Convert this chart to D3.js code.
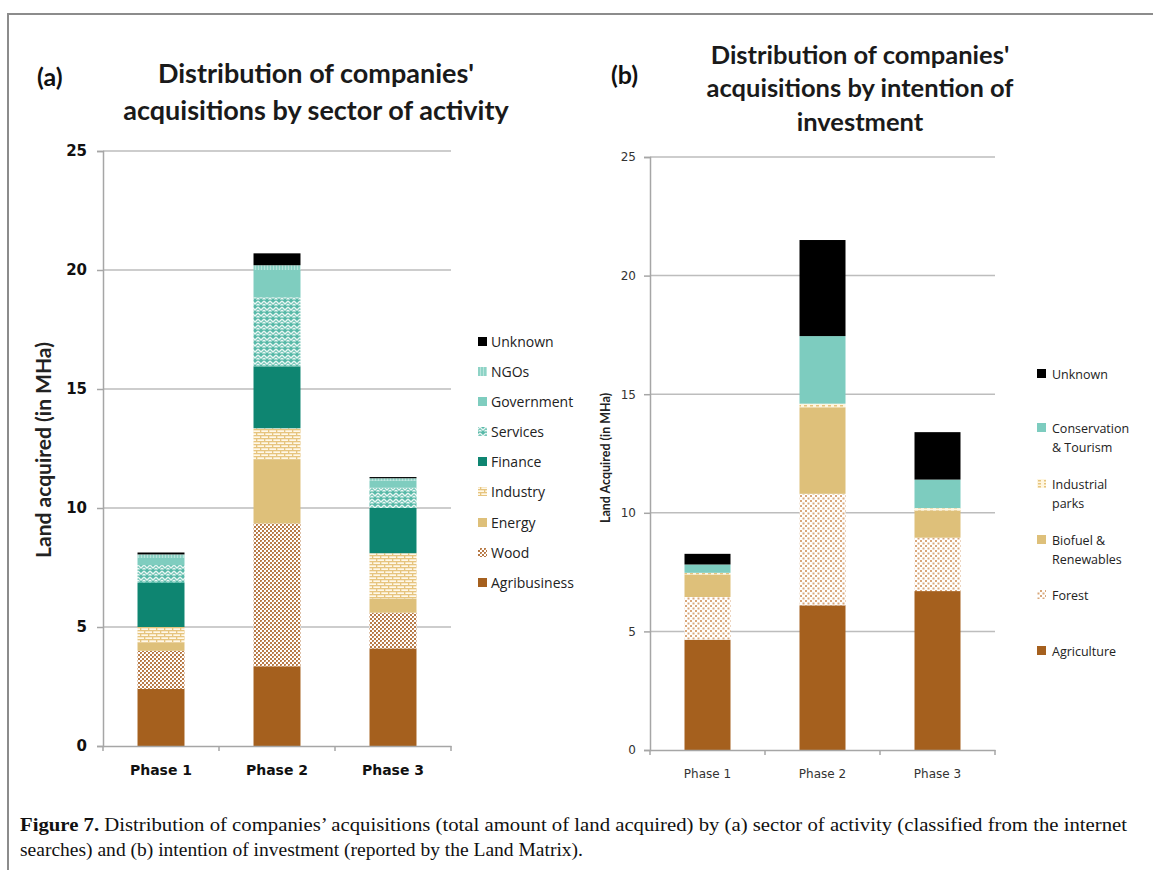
<!DOCTYPE html>
<html><head><meta charset="utf-8">
<script src="https://cdn.jsdelivr.net/npm/d3@7"></script>
<style>html,body{margin:0;padding:0;background:#fff;}svg{display:block;}</style>
</head><body>
<svg id="chart" width="1153" height="870"></svg>
<script>
// ---------- DATA ----------
const phases = ["Phase 1", "Phase 2", "Phase 3"];
const yTicks = [0, 5, 10, 15, 20, 25];

// Panel (a): by sector of activity (MHa)
const sectorNames = ["Agribusiness", "Wood", "Energy", "Industry", "Finance", "Services", "Government", "NGOs", "Unknown"];
const agribusiness = [2.4, 3.35, 4.1];
const wood         = [1.6, 6.0, 1.5];
const energy       = [0.35, 2.7, 0.6];
const industry     = [0.65, 1.3, 1.9];
const finance      = [1.85, 2.6, 1.9];
const services     = [0.75, 2.9, 0.85];
const government   = [0.3, 1.15, 0.3];
const ngos         = [0.15, 0.2, 0.1];
const unknownA     = [0.08, 0.5, 0.05];

// Panel (b): by intention of investment (MHa)
const intentionNames = ["Agriculture", "Forest", "Biofuel & Renewables", "Industrial parks", "Conservation & Tourism", "Unknown"];
const agriculture     = [4.65, 6.1, 6.7];
const forest          = [1.8, 4.7, 2.25];
const biofuel         = [0.95, 3.65, 1.15];
const industrialParks = [0.07, 0.15, 0.1];
const conservation    = [0.35, 2.85, 1.2];
const unknownB        = [0.45, 4.05, 2.0];

// ---------- SETUP ----------
const svg = d3.select("#chart");
const defs = svg.append("defs");

function pat(id, w, h, bg, draw) {
  const p = defs.append("pattern").attr("id", id).attr("patternUnits", "userSpaceOnUse")
    .attr("width", w).attr("height", h);
  p.append("rect").attr("width", w).attr("height", h).attr("fill", bg);
  draw(p);
}
const BROWN = "#A5601E";
// wood: brown weave on white
pat("pWood", 4, 4, "#fff", p => {
  p.append("rect").attr("x", 0).attr("y", 0).attr("width", 2).attr("height", 2).attr("fill", "#B77A47");
  p.append("rect").attr("x", 2).attr("y", 2).attr("width", 2).attr("height", 2).attr("fill", "#B77A47");
  p.append("rect").attr("x", 1).attr("y", 1).attr("width", 1).attr("height", 1).attr("fill", "#D3A47C");
});
// industry: bricks
pat("pIndustry", 8, 6, "#FFF8E8", p => {
  p.append("rect").attr("x", 0).attr("y", 0).attr("width", 8).attr("height", 1.3).attr("fill", "#E6C47E");
  p.append("rect").attr("x", 0).attr("y", 3).attr("width", 8).attr("height", 1.3).attr("fill", "#E6C47E");
  p.append("rect").attr("x", 0).attr("y", 0).attr("width", 1.3).attr("height", 3).attr("fill", "#E6C47E");
  p.append("rect").attr("x", 4).attr("y", 3).attr("width", 1.3).attr("height", 3).attr("fill", "#E6C47E");
});
// services: teal zigzag with white
pat("pServices", 6, 6, "#58B9A8", p => {
  p.append("path").attr("d", "M0,1 L3,4 L6,1 M0,4 L1.5,5.5 M4.5,5.5 L6,4").attr("stroke", "#E9F6F3").attr("stroke-width", 1.4).attr("fill", "none");
});
// NGOs: light teal with faint white stripes
pat("pNGO", 3, 3, "#8ED3C6", p => {
  p.append("rect").attr("x", 0).attr("y", 0).attr("width", 1).attr("height", 3).attr("fill", "#B7E4DB");
});
// forest: sparse dots
pat("pForest", 5, 5, "#fff", p => {
  p.append("rect").attr("x", 0).attr("y", 0).attr("width", 2).attr("height", 2).attr("fill", "#D9A77A");
  p.append("rect").attr("x", 2.5).attr("y", 2.5).attr("width", 2).attr("height", 2).attr("fill", "#D9A77A");
});
// industrial parks: dashed yellow
pat("pParks", 6, 3, "#FFF6E0", p => {
  p.append("rect").attr("x", 0).attr("y", 0).attr("width", 3).attr("height", 1.5).attr("fill", "#E6C47E");
});

const colorsA = {
  "Agribusiness": BROWN, "Wood": "url(#pWood)", "Energy": "#DEC07A", "Industry": "url(#pIndustry)",
  "Finance": "#0E8571", "Services": "url(#pServices)", "Government": "#7FCDBF", "NGOs": "url(#pNGO)", "Unknown": "#000"
};
const colorsB = {
  "Agriculture": BROWN, "Forest": "url(#pForest)", "Biofuel & Renewables": "#DEC07A",
  "Industrial parks": "url(#pParks)", "Conservation & Tourism": "#7DCCBF", "Unknown": "#000"
};

const seriesA = [agribusiness, wood, energy, industry, finance, services, government, ngos, unknownA];
const seriesB = [agriculture, forest, biofuel, industrialParks, conservation, unknownB];

function buildRows(names, series) {
  return phases.map((ph, i) => {
    const r = { phase: ph };
    names.forEach((n, k) => r[n] = series[k][i]);
    return r;
  });
}

function drawPanel(cfg) {
  const g = svg.append("g");
  const x = d3.scaleBand().domain(phases).range([cfg.x0, cfg.x1]).paddingInner(cfg.pad).paddingOuter(cfg.pad / 2);
  const y = d3.scaleLinear().domain([0, 25]).range([cfg.y0, cfg.y1]);
  // grid
  g.selectAll(".grid").data(yTicks.filter(t => t > 0)).join("line")
    .attr("x1", cfg.x0).attr("x2", cfg.x1).attr("y1", d => y(d)).attr("y2", d => y(d))
    .attr("stroke", "#BDBDBD").attr("stroke-width", 1.5);
  // bars
  const rows = buildRows(cfg.names, cfg.series);
  const stack = d3.stack().keys(cfg.names)(rows);
  stack.forEach(layer => {
    g.selectAll(null).data(layer).join("rect")
      .attr("x", d => x(d.data.phase)).attr("width", x.bandwidth())
      .attr("y", d => y(d[1])).attr("height", d => Math.max(0, y(d[0]) - y(d[1])))
      .attr("fill", cfg.colors[layer.key]);
  });
  // y axis
  const ya = g.append("g").attr("transform", `translate(${cfg.x0},0)`)
    .call(d3.axisLeft(y).tickValues(yTicks).tickSize(6).tickPadding(cfg.tickPad));
  ya.select(".domain").attr("stroke", "#A6A6A6").attr("stroke-width", 1.5);
  ya.selectAll(".tick line").attr("stroke", "#A6A6A6").attr("stroke-width", 1.5);
  ya.selectAll("text").attr("font-family", "DejaVu Sans, Verdana, sans-serif")
    .attr("font-size", cfg.tickFont).attr("font-weight", cfg.tickWeight).attr("fill", cfg.tickColor);
  // x axis
  const xa = g.append("g").attr("transform", `translate(0,${cfg.y0})`)
    .call(d3.axisBottom(x).tickSize(0).tickPadding(cfg.xPad));
  xa.select(".domain").attr("stroke", "#A6A6A6").attr("stroke-width", 1.5);
  xa.selectAll("text").attr("font-family", "DejaVu Sans, Verdana, sans-serif")
    .attr("font-size", cfg.xFont).attr("font-weight", cfg.tickWeight).attr("fill", cfg.tickColor);
  // category boundary ticks
  const step = x.step();
  g.selectAll(".xt").data(d3.range(phases.length + 1)).join("line")
    .attr("x1", i => cfg.x0 + i * step).attr("x2", i => cfg.x0 + i * step)
    .attr("y1", cfg.y0).attr("y2", cfg.y0 + 5).attr("stroke", "#A6A6A6").attr("stroke-width", 1.5);
  // y axis title
  g.append("text").attr("transform", `translate(${cfg.yTitleX},${cfg.yTitleY}) rotate(-90)`)
    .attr("text-anchor", "middle").attr("font-family", "Lato, 'Open Sans', sans-serif")
    .attr("font-weight", "bold").attr("font-size", cfg.yTitleFont).attr("fill", "#222").text(cfg.yTitle);
  return { x, y };
}

// ---------- PANEL (a) ----------
drawPanel({
  x0: 103, x1: 451, y0: 746, y1: 151, pad: 0.595,
  names: sectorNames, series: seriesA, colors: colorsA,
  tickPad: 10, tickFont: 15, tickWeight: "bold", tickColor: "#111", xFont: 14, xPad: 19,
  yTitle: "Land acquired  (in MHa)", yTitleX: 51, yTitleY: 450, yTitleFont: 21
});
// ---------- PANEL (b) ----------
drawPanel({
  x0: 650, x1: 995, y0: 750, y1: 157, pad: 0.6,
  names: intentionNames, series: seriesB, colors: colorsB,
  tickPad: 8, tickFont: 12, tickWeight: "normal", tickColor: "#333", xFont: 12, xPad: 19,
  yTitle: "Land Acquired (in MHa)", yTitleX: 610, yTitleY: 458, yTitleFont: 12.5
});

// ---------- TITLES ----------
const tFont = "Lato, 'Open Sans', sans-serif";
svg.append("text").attr("x", 37).attr("y", 86).attr("font-family", tFont).attr("font-weight", "bold")
  .attr("font-size", 25).attr("fill", "#111").text("(a)");
[["Distribution of companies'", 83], ["acquisitions by sector of activity", 120]].forEach(([t, yy]) =>
  svg.append("text").attr("x", 316).attr("y", yy).attr("text-anchor", "middle").attr("font-family", tFont)
    .attr("font-weight", "bold").attr("font-size", 27).attr("fill", "#1a1a1a").text(t));
svg.append("text").attr("x", 611).attr("y", 84).attr("font-family", tFont).attr("font-weight", "bold")
  .attr("font-size", 25).attr("fill", "#111").text("(b)");
[["Distribution of companies'", 64], ["acquisitions by intention of", 97], ["investment", 131]].forEach(([t, yy]) =>
  svg.append("text").attr("x", 860).attr("y", yy).attr("text-anchor", "middle").attr("font-family", tFont)
    .attr("font-weight", "bold").attr("font-size", 25.5).attr("fill", "#1a1a1a").text(t));

// ---------- LEGENDS ----------
const legA = sectorNames.slice().reverse();
const legAY = [342, 372, 402, 432, 462, 492, 523, 553, 583];
legA.forEach((n, i) => {
  svg.append("rect").attr("x", 478).attr("y", legAY[i] - 5).attr("width", 9).attr("height", 9).attr("fill", colorsA[n]);
  svg.append("text").attr("x", 491).attr("y", legAY[i] + 5).attr("font-family", "'Open Sans', sans-serif")
    .attr("font-size", 14).attr("fill", "#222").text(n);
});
const legB = [
  ["Unknown", ["Unknown"], 374],
  ["Conservation & Tourism", ["Conservation", "& Tourism"], 428],
  ["Industrial parks", ["Industrial", "parks"], 484],
  ["Biofuel & Renewables", ["Biofuel &", "Renewables"], 540],
  ["Forest", ["Forest"], 595],
  ["Agriculture", ["Agriculture"], 651]
];
legB.forEach(([key, lines, yy]) => {
  svg.append("rect").attr("x", 1037).attr("y", yy - 5).attr("width", 9).attr("height", 9).attr("fill", colorsB[key]);
  lines.forEach((l, j) => svg.append("text").attr("x", 1052).attr("y", yy + 5 + j * 19)
    .attr("font-family", "'Open Sans', sans-serif").attr("font-size", 12.5).attr("fill", "#222").text(l));
});

// ---------- FRAME ----------
svg.append("path").attr("d", "M8,870 L8,14 L1153,14").attr("fill", "none").attr("stroke", "#8c8c8c").attr("stroke-width", 2);

// ---------- CAPTION ----------
const cap1 = svg.append("text").attr("x", 20).attr("y", 831).attr("font-family", "'Liberation Serif', serif")
  .attr("font-size", 19.5).attr("fill", "#111").attr("textLength", 1107).attr("lengthAdjust", "spacingAndGlyphs");
cap1.append("tspan").attr("font-weight", "bold").text("Figure 7. ");
cap1.append("tspan").text("Distribution of companies’ acquisitions (total amount of land acquired) by (a) sector of activity (classified from the internet");
svg.append("text").attr("x", 20).attr("y", 856).attr("font-family", "'Liberation Serif', serif")
  .attr("font-size", 19.5).attr("fill", "#111").attr("textLength", 563).attr("lengthAdjust", "spacingAndGlyphs")
  .text("searches) and (b) intention of investment (reported by the Land Matrix).");
</script>
</body></html>
